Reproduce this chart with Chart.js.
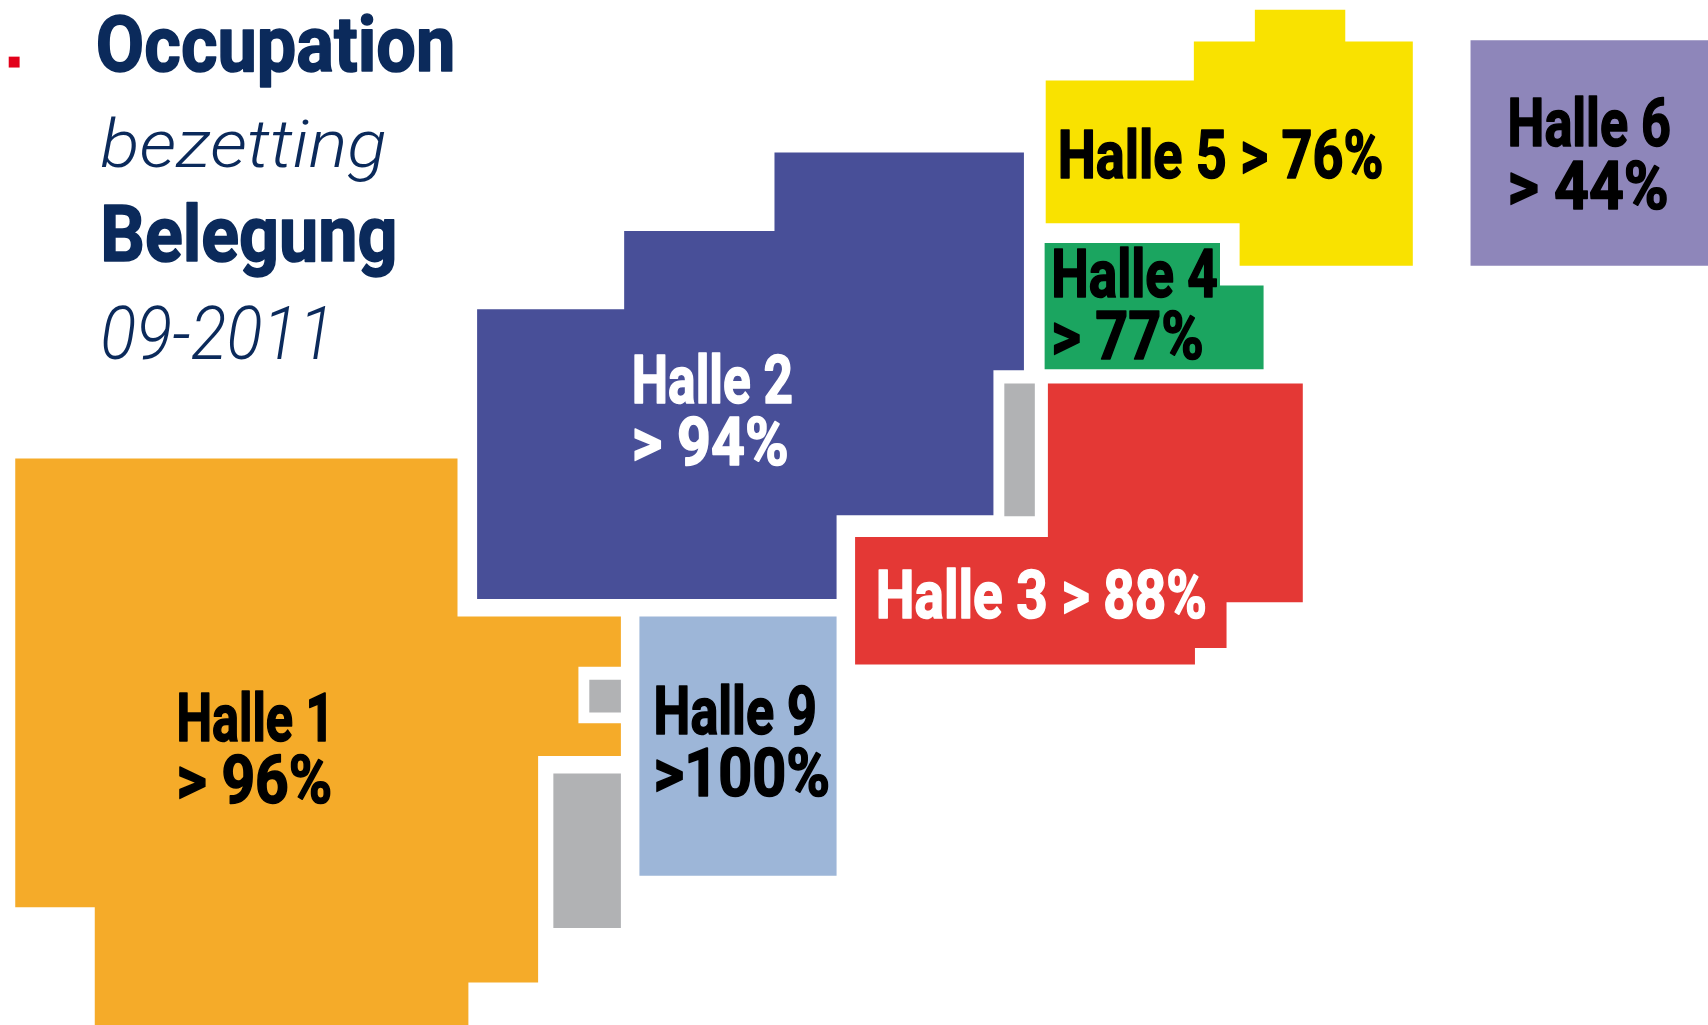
<!DOCTYPE html>
<html>
<head>
<meta charset="utf-8">
<script src="https://cdn.jsdelivr.net/npm/chart.js@4.4.0/dist/chart.umd.min.js"></script>
<style>
  html, body { margin: 0; padding: 0; background: #fff; overflow: hidden; }
  #plan { display: block; }
</style>
</head>
<body>
<canvas id="plan" width="1708" height="1025"></canvas>
<script>
"use strict";

// ==== DATA: hall outlines, plan units (x 0..1568, y 0..941, y downwards) ====
const halle1 = [[14,421],[420,421],[420,566],[570,566],[570,612],[531,612],[531,664],[570,664],[570,694],[494,694],[494,902],[430,902],[430,941],[87,941],[87,833],[14,833]];
const halle2 = [[711,140],[940,140],[940,340],[912,340],[912,473],[768,473],[768,550],[438,550],[438,284],[573,284],[573,212],[711,212]];
const halle3 = [[962,352],[1196,352],[1196,553],[1126,553],[1126,595],[1097,595],[1097,610],[785,610],[785,493],[962,493]];
const halle4 = [[959,223],[1120,223],[1120,262],[1160,262],[1160,339],[959,339]];
const halle5 = [[1152,9],[1235,9],[1235,38],[1297,38],[1297,244],[1138,244],[1138,205],[960,205],[960,74],[1096,74],[1096,38],[1152,38]];
const halle6 = [[1350,37],[1568,37],[1568,244],[1350,244]];
const halle9 = [[587,566],[768,566],[768,804],[587,804]];
// service blocks (grey)
const serviceA = [[541,624],[570,624],[570,654],[541,654]];
const serviceB = [[508,710],[570,710],[570,852],[508,852]];
const serviceC = [[922,352],[950,352],[950,474],[922,474]];

const hallNames = ["Halle 1", "Halle 2", "Halle 3", "Halle 4", "Halle 5", "Halle 6", "Halle 9"];
const occupancy = [96, 94, 88, 77, 76, 44, 100];
const titleLines = ["Occupation", "bezetting", "Belegung", "09-2011"];

// ==== styling ====
const hallShapes = [halle1, halle2, halle3, halle4, halle5, halle6, halle9];
const hallColors = ["#F5AB29", "#484F98", "#E43835", "#1BA560", "#F9E200", "#8E86BA", "#9DB6D8"];
const textColors = ["#000", "#fff", "#fff", "#000", "#000", "#000", "#000"];
const greyColor = "#B1B2B4";
const navy = "#0B2A5B";

// label placement per hall: left x, baselines, target widths (plan units), one or two lines
const labelLayout = [
  { x: 162, base: [680, 737], w: [145, 143], oneLine: false, sep: "> " },
  { x: 580, base: [370, 427], w: [148, 144], oneLine: false, sep: "> " },
  { x: 804, base: [567], w: [304], oneLine: true, sep: "> " },
  { x: 965, base: [273, 330], w: [153, 140], oneLine: false, sep: "> " },
  { x: 971, base: [163], w: [299], oneLine: true, sep: "> " },
  { x: 1384, base: [134, 192], w: [150, 148], oneLine: false, sep: "> " },
  { x: 600, base: [674, 731], w: [150, 162], oneLine: false, sep: ">" },
];
const titleLayout = [
  { x: 88, base: 65, w: 330, cap: 50, font: "bold", color: navy, heavy: true },
  { x: 92, base: 153, w: 263, cap: 44, font: "italic 300", color: navy, heavy: false },
  { x: 92, base: 240, w: 273, cap: 50, font: "bold", color: navy, heavy: true },
  { x: 92, base: 330, w: 215, cap: 48, font: "italic 300", color: navy, heavy: false },
];

const closeShape = (pts) => pts.concat([pts[0]]).map(([x, y]) => ({ x, y }));

const polyDataset = (label, pts, color) => ({
  label: label,
  data: closeShape(pts),
  showLine: true,
  fill: "shape",
  backgroundColor: color,
  borderColor: color,
  borderWidth: 0,
  pointRadius: 0,
  tension: 0,
});

const datasets = hallShapes.map((pts, i) => polyDataset(hallNames[i], pts, hallColors[i]));
datasets.push(polyDataset("service", serviceA, greyColor));
datasets.push(polyDataset("service", serviceB, greyColor));
datasets.push(polyDataset("service", serviceC, greyColor));

// draw text squeezed/stretched to a given width, optionally thickened
const fitText = (ctx, text, x, y, width, heavy) => {
  const natural = ctx.measureText(text).width;
  ctx.save();
  ctx.translate(x, y);
  ctx.scale(width / natural, 1);
  if (heavy) {
    ctx.lineJoin = "round";
    ctx.lineWidth = 1.6;
    ctx.strokeStyle = ctx.fillStyle;
    ctx.strokeText(text, 0, 0);
  }
  ctx.fillText(text, 0, 0);
  ctx.restore();
};

const labelsPlugin = {
  id: "hallLabels",
  afterDraw(chart) {
    const ctx = chart.ctx;
    const xs = chart.scales.x;
    const ys = chart.scales.y;
    const k = (xs.getPixelForValue(1000) - xs.getPixelForValue(0)) / 1000;
    ctx.save();
    ctx.textBaseline = "alphabetic";
    ctx.textAlign = "left";

    // red marker
    ctx.fillStyle = "#E2001A";
    ctx.fillRect(xs.getPixelForValue(8), ys.getPixelForValue(52), 10 * k, 10 * k);

    // title block
    titleLines.forEach((t, i) => {
      const l = titleLayout[i];
      ctx.fillStyle = l.color;
      ctx.font = `${l.font} ${Math.round(l.cap * k / 0.711)}px Roboto, "DejaVu Sans", sans-serif`;
      fitText(ctx, t, xs.getPixelForValue(l.x), ys.getPixelForValue(l.base), l.w * k, l.heavy);
    });

    // hall labels
    const size = Math.round(44 * k / 0.711);
    ctx.font = `bold ${size}px Roboto, "DejaVu Sans", sans-serif`;
    hallNames.forEach((name, i) => {
      const l = labelLayout[i];
      const pct = `${l.sep}${occupancy[i]}%`;
      const lines = l.oneLine ? [`${name} ${pct}`] : [name, pct];
      ctx.fillStyle = textColors[i];
      lines.forEach((line, j) => {
        fitText(ctx, line, xs.getPixelForValue(l.x), ys.getPixelForValue(l.base[j]), l.w[j] * k, true);
      });
    });
    ctx.restore();
  },
};

new Chart(document.getElementById("plan"), {
  type: "scatter",
  data: { datasets },
  options: {
    responsive: false,
    animation: false,
    devicePixelRatio: 1,
    layout: { padding: 0 },
    plugins: {
      legend: { display: false },
      tooltip: { enabled: false },
    },
    scales: {
      x: { type: "linear", min: 0, max: 1568, display: false },
      y: { type: "linear", min: 0, max: 941, reverse: true, display: false },
    },
  },
  plugins: [labelsPlugin],
});
</script>
</body>
</html>
